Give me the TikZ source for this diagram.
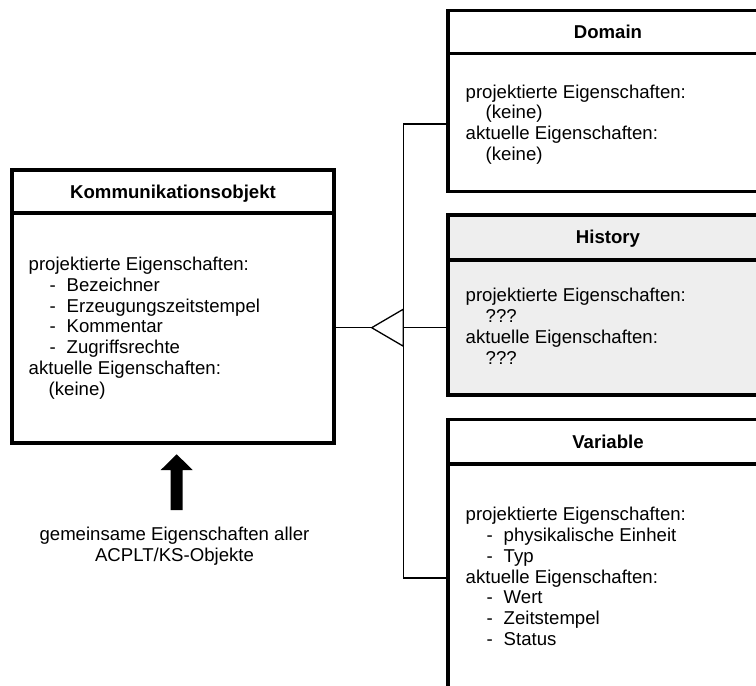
\documentclass[tikz,border=0pt]{standalone}
\usepackage{fontspec}
\setmainfont{Liberation Sans}
% list entries inside the class boxes
\newcommand\itm[1]{\hspace*{21pt}\makebox[17pt][l]{-}#1}
\newcommand\ind[1]{\hspace*{20pt}#1}
\newcommand\proplist[1]{\begin{tabular}[t]{@{}l@{}}#1\end{tabular}}
\definecolor{histfill}{RGB}{238,238,238}
\begin{document}
\begin{tikzpicture}[x=1pt,y=-1pt,
  umlbox/.style={draw, line width=3.2pt, rectangle, inner sep=0pt, outer sep=0pt},
  boxtitle/.style={anchor=base, inner sep=0pt, font=\fontsize{18.6}{20.8}\selectfont\bfseries},
  boxbody/.style={anchor=base west, inner sep=0pt, font=\fontsize{18.6}{20.8}\selectfont},
  note/.style={anchor=base, inner sep=0pt, font=\fontsize{18.6}{21}\selectfont},
  link/.style={line width=1.3pt},
  divider/.style={line width=3.2pt}]
\useasboundingbox (0,0) rectangle (756,686);
\clip (0,0) rectangle (756,686);

% base class
\node[umlbox, minimum width=322pt, minimum height=273pt] (komm) at (173,306.5) {};
\draw[divider] ([yshift=-43pt]komm.north west) -- ([yshift=-43pt]komm.north east);
\node[boxtitle] (kommtitle) at (173,198.3) {Kommunikationsobjekt};
\node[boxbody] (kommtext) at (28.5,270.5) {\proplist{%
  projektierte Eigenschaften:\\
  \itm{Bezeichner}\\
  \itm{Erzeugungszeitstempel}\\
  \itm{Kommentar}\\
  \itm{Zugriffsrechte}\\
  aktuelle Eigenschaften:\\
  \ind{(keine)}}};

% derived classes
\node[umlbox, minimum width=320pt, minimum height=181pt] (domain) at (608,101.2) {};
\draw[divider] ([yshift=-42.6pt]domain.north west) -- ([yshift=-42.6pt]domain.north east);
\node[boxtitle] (domaintitle) at (608,38.3) {Domain};
\node[boxbody] (domaintext) at (465.5,98) {\proplist{%
  projektierte Eigenschaften:\\
  \ind{(keine)}\\
  aktuelle Eigenschaften:\\
  \ind{(keine)}}};

\node[umlbox, fill=histfill, minimum width=320pt, minimum height=180pt] (history) at (608,305) {};
\draw[divider] ([yshift=-45pt]history.north west) -- ([yshift=-45pt]history.north east);
\node[boxtitle] (historytitle) at (608,243.3) {History};
\node[boxbody] (historytext) at (465.5,301.7) {\proplist{%
  projektierte Eigenschaften:\\
  \ind{???}\\
  aktuelle Eigenschaften:\\
  \ind{???}}};

\node[umlbox, minimum width=320pt, minimum height=300.7pt] (variable) at (608,569.6) {};
\draw[divider] ([yshift=-44.7pt]variable.north west) -- ([yshift=-44.7pt]variable.north east);
\node[boxtitle] (variabletitle) at (608,448.3) {Variable};
\node[boxbody] (variabletext) at (465.5,520.7) {\proplist{%
  projektierte Eigenschaften:\\
  \itm{physikalische Einheit}\\
  \itm{Typ}\\
  aktuelle Eigenschaften:\\
  \itm{Wert}\\
  \itm{Zeitstempel}\\
  \itm{Status}}};

% generalization connector with open triangle
\coordinate (tip) at (371.7,327.7);
\coordinate (trianglebase) at (403.3,327.7);
\coordinate (bustop) at (403.3,124);
\coordinate (busbottom) at (403.3,578);
\draw[link] (komm.east |- tip) -- (tip);
\draw[link, line join=miter] (tip) -- ([yshift=18.5pt]trianglebase) -- ([yshift=-18.5pt]trianglebase) -- cycle;
\draw[link] (domain.west |- bustop) -- (bustop) -- (busbottom) -- (variable.west |- busbottom);
\draw[link] (trianglebase) -- (history.west |- trianglebase);

% upward arrow and its caption
\fill (170.7,510) -- (170.7,470) -- (160.7,470) -- (176.7,454.3) -- (192.7,470)
  -- (182.7,470) -- (182.7,510) -- cycle;
\node[note] (caption1) at (174.5,540.7) {gemeinsame Eigenschaften aller};
\node[note] (caption2) at (174.5,561.7) {ACPLT/KS-Objekte};
\end{tikzpicture}
\end{document}
